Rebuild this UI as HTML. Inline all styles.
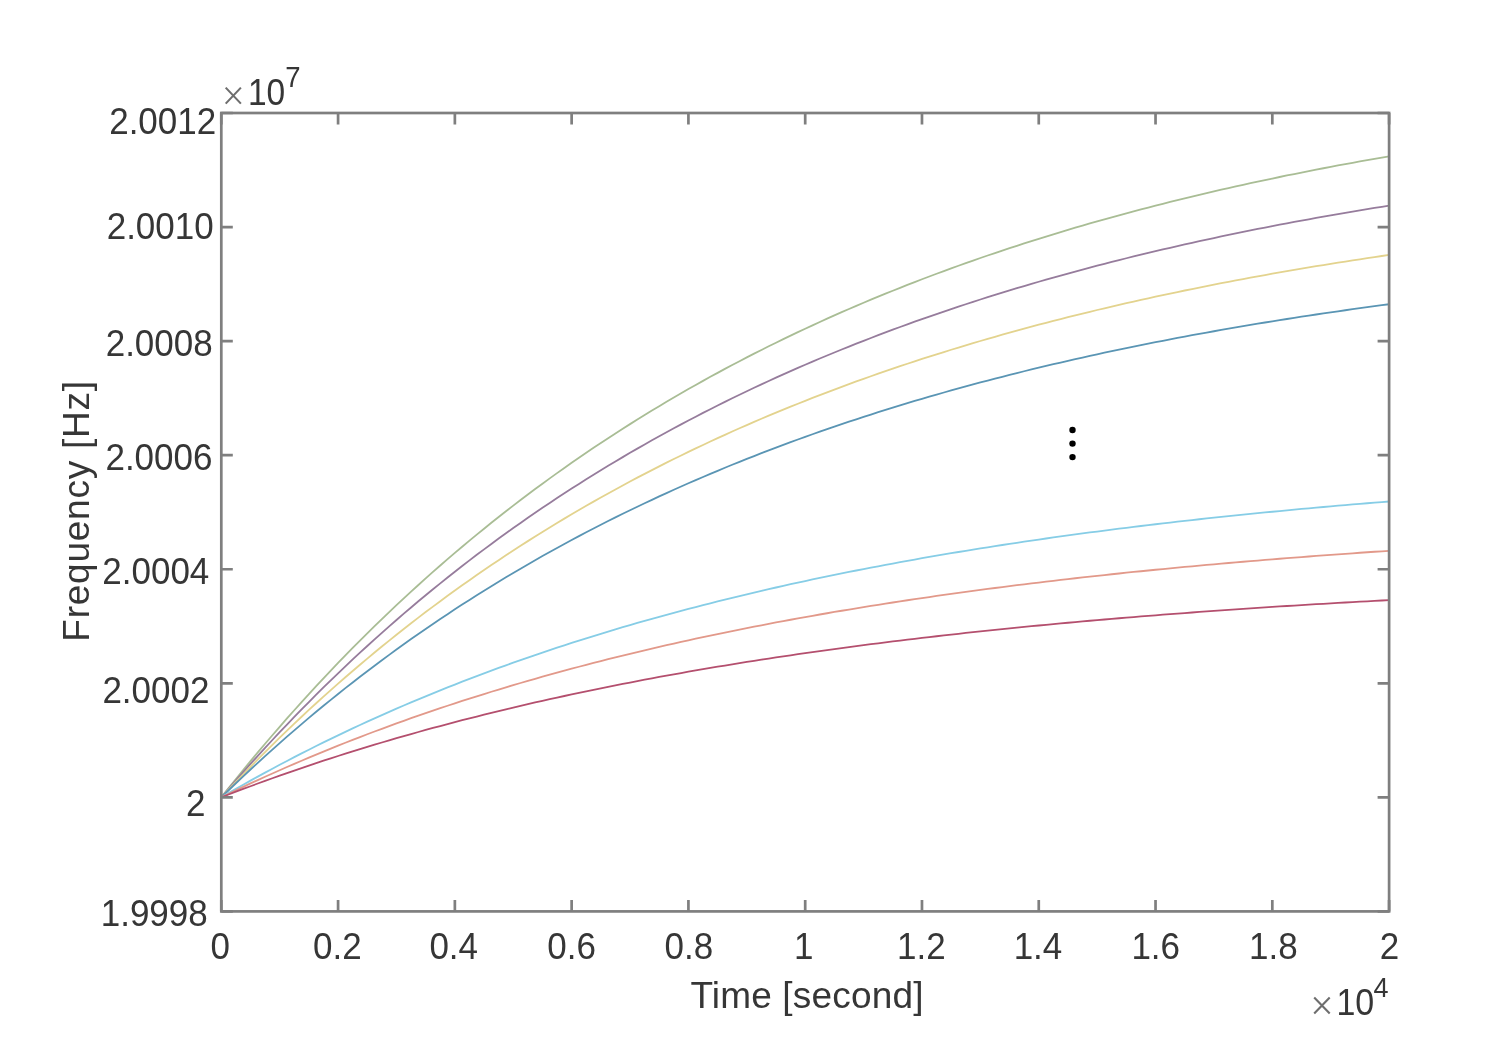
<!DOCTYPE html>
<html><head><meta charset="utf-8"><style>
html,body{margin:0;padding:0;background:#fff;}
body{width:1496px;height:1040px;overflow:hidden;}
svg{display:block;filter:blur(0.60px);}
text{font-family:"Liberation Sans",sans-serif;fill:#363636;}
</style></head><body>
<svg width="1496" height="1040" viewBox="0 0 1496 1040">
<rect width="1496" height="1040" fill="#fff"/>

<polyline fill="none" stroke="#a9bd95" stroke-width="1.8" stroke-linejoin="round" points="221.30,797.34 228.60,788.13 235.90,779.04 243.20,770.06 250.50,761.19 257.79,752.43 265.09,743.77 272.39,735.23 279.69,726.79 286.99,718.46 294.29,710.23 301.59,702.10 308.88,694.08 316.18,686.15 323.48,678.32 330.78,670.59 338.08,662.96 345.38,655.41 352.68,647.97 359.98,640.61 367.27,633.35 374.57,626.18 381.87,619.10 389.17,612.10 396.47,605.19 403.77,598.37 411.07,591.63 418.37,584.98 425.66,578.41 432.96,571.92 440.26,565.51 447.56,559.18 454.86,552.93 462.16,546.75 469.46,540.66 476.76,534.64 484.06,528.69 491.35,522.82 498.65,517.02 505.95,511.29 513.25,505.64 520.55,500.05 527.85,494.53 535.15,489.09 542.45,483.71 549.74,478.39 557.04,473.14 564.34,467.96 571.64,462.84 578.94,457.79 586.24,452.80 593.54,447.87 600.84,443.00 608.13,438.19 615.43,433.45 622.73,428.76 630.03,424.13 637.33,419.55 644.63,415.04 651.93,410.58 659.22,406.17 666.52,401.82 673.82,397.52 681.12,393.28 688.42,389.09 695.72,384.95 703.02,380.87 710.32,376.83 717.62,372.84 724.91,368.91 732.21,365.02 739.51,361.18 746.81,357.39 754.11,353.65 761.41,349.95 768.71,346.30 776.00,342.69 783.30,339.13 790.60,335.61 797.90,332.14 805.20,328.71 812.50,325.32 819.80,321.97 827.10,318.67 834.39,315.41 841.69,312.18 848.99,309.00 856.29,305.86 863.59,302.75 870.89,299.69 878.19,296.66 885.49,293.67 892.78,290.72 900.08,287.80 907.38,284.92 914.68,282.08 921.98,279.27 929.28,276.49 936.58,273.75 943.88,271.05 951.17,268.38 958.47,265.74 965.77,263.13 973.07,260.56 980.37,258.02 987.67,255.51 994.97,253.03 1002.27,250.58 1009.57,248.16 1016.86,245.78 1024.16,243.42 1031.46,241.09 1038.76,238.79 1046.06,236.52 1053.36,234.28 1060.66,232.06 1067.95,229.88 1075.25,227.71 1082.55,225.58 1089.85,223.47 1097.15,221.39 1104.45,219.34 1111.75,217.31 1119.05,215.31 1126.35,213.33 1133.64,211.37 1140.94,209.44 1148.24,207.53 1155.54,205.65 1162.84,203.79 1170.14,201.96 1177.44,200.14 1184.73,198.35 1192.03,196.58 1199.33,194.84 1206.63,193.11 1213.93,191.41 1221.23,189.73 1228.53,188.06 1235.83,186.42 1243.12,184.80 1250.42,183.20 1257.72,181.62 1265.02,180.06 1272.32,178.52 1279.62,177.00 1286.92,175.49 1294.22,174.01 1301.51,172.54 1308.81,171.09 1316.11,169.66 1323.41,168.25 1330.71,166.86 1338.01,165.48 1345.31,164.12 1352.61,162.78 1359.90,161.45 1367.20,160.14 1374.50,158.85 1381.80,157.57 1389.10,156.31"/>
<polyline fill="none" stroke="#967c9c" stroke-width="1.8" stroke-linejoin="round" points="221.30,797.34 228.60,788.84 235.90,780.45 243.20,772.16 250.50,763.97 257.79,755.88 265.09,747.89 272.39,740.01 279.69,732.22 286.99,724.53 294.29,716.93 301.59,709.43 308.88,702.02 316.18,694.70 323.48,687.48 330.78,680.34 338.08,673.29 345.38,666.33 352.68,659.46 359.98,652.67 367.27,645.97 374.57,639.35 381.87,632.81 389.17,626.35 396.47,619.97 403.77,613.68 411.07,607.46 418.37,601.31 425.66,595.25 432.96,589.26 440.26,583.34 447.56,577.50 454.86,571.73 462.16,566.03 469.46,560.40 476.76,554.84 484.06,549.36 491.35,543.94 498.65,538.58 505.95,533.30 513.25,528.07 520.55,522.92 527.85,517.83 535.15,512.80 542.45,507.83 549.74,502.93 557.04,498.08 564.34,493.30 571.64,488.58 578.94,483.91 586.24,479.30 593.54,474.75 600.84,470.26 608.13,465.82 615.43,461.44 622.73,457.11 630.03,452.83 637.33,448.61 644.63,444.44 651.93,440.33 659.22,436.26 666.52,432.25 673.82,428.28 681.12,424.36 688.42,420.50 695.72,416.68 703.02,412.90 710.32,409.18 717.62,405.50 724.91,401.86 732.21,398.28 739.51,394.73 746.81,391.23 754.11,387.78 761.41,384.36 768.71,380.99 776.00,377.66 783.30,374.38 790.60,371.13 797.90,367.92 805.20,364.76 812.50,361.63 819.80,358.54 827.10,355.49 834.39,352.48 841.69,349.50 848.99,346.56 856.29,343.66 863.59,340.80 870.89,337.97 878.19,335.17 885.49,332.41 892.78,329.69 900.08,327.00 907.38,324.34 914.68,321.71 921.98,319.12 929.28,316.56 936.58,314.03 943.88,311.53 951.17,309.07 958.47,306.63 965.77,304.23 973.07,301.85 980.37,299.51 987.67,297.19 994.97,294.90 1002.27,292.64 1009.57,290.41 1016.86,288.21 1024.16,286.03 1031.46,283.88 1038.76,281.76 1046.06,279.66 1053.36,277.59 1060.66,275.55 1067.95,273.53 1075.25,271.53 1082.55,269.56 1089.85,267.62 1097.15,265.70 1104.45,263.80 1111.75,261.93 1119.05,260.08 1126.35,258.25 1133.64,256.45 1140.94,254.66 1148.24,252.90 1155.54,251.17 1162.84,249.45 1170.14,247.76 1177.44,246.08 1184.73,244.43 1192.03,242.80 1199.33,241.18 1206.63,239.59 1213.93,238.02 1221.23,236.47 1228.53,234.93 1235.83,233.42 1243.12,231.92 1250.42,230.44 1257.72,228.98 1265.02,227.54 1272.32,226.12 1279.62,224.72 1286.92,223.33 1294.22,221.96 1301.51,220.60 1308.81,219.27 1316.11,217.95 1323.41,216.64 1330.71,215.36 1338.01,214.08 1345.31,212.83 1352.61,211.59 1359.90,210.36 1367.20,209.15 1374.50,207.96 1381.80,206.78 1389.10,205.62"/>
<polyline fill="none" stroke="#e3d38e" stroke-width="1.8" stroke-linejoin="round" points="221.30,797.34 228.60,789.55 235.90,781.85 243.20,774.25 250.50,766.75 257.79,759.34 265.09,752.02 272.39,744.79 279.69,737.65 286.99,730.59 294.29,723.63 301.59,716.75 308.88,709.96 316.18,703.26 323.48,696.63 330.78,690.09 338.08,683.63 345.38,677.25 352.68,670.95 359.98,664.73 367.27,658.58 374.57,652.51 381.87,646.52 389.17,640.60 396.47,634.75 403.77,628.98 411.07,623.28 418.37,617.65 425.66,612.09 432.96,606.60 440.26,601.17 447.56,595.82 454.86,590.53 462.16,585.31 469.46,580.15 476.76,575.05 484.06,570.02 491.35,565.05 498.65,560.15 505.95,555.30 513.25,550.51 520.55,545.79 527.85,541.12 535.15,536.51 542.45,531.96 549.74,527.46 557.04,523.02 564.34,518.64 571.64,514.31 578.94,510.03 586.24,505.81 593.54,501.63 600.84,497.52 608.13,493.45 615.43,489.43 622.73,485.46 630.03,481.54 637.33,477.67 644.63,473.85 651.93,470.08 659.22,466.35 666.52,462.67 673.82,459.03 681.12,455.44 688.42,451.90 695.72,448.40 703.02,444.94 710.32,441.52 717.62,438.15 724.91,434.82 732.21,431.53 739.51,428.28 746.81,425.08 754.11,421.91 761.41,418.78 768.71,415.69 776.00,412.64 783.30,409.62 790.60,406.65 797.90,403.71 805.20,400.80 812.50,397.94 819.80,395.11 827.10,392.31 834.39,389.55 841.69,386.82 848.99,384.13 856.29,381.47 863.59,378.84 870.89,376.25 878.19,373.69 885.49,371.16 892.78,368.66 900.08,366.19 907.38,363.76 914.68,361.35 921.98,358.97 929.28,356.62 936.58,354.31 943.88,352.02 951.17,349.76 958.47,347.52 965.77,345.32 973.07,343.14 980.37,340.99 987.67,338.87 994.97,336.77 1002.27,334.70 1009.57,332.65 1016.86,330.63 1024.16,328.64 1031.46,326.67 1038.76,324.72 1046.06,322.80 1053.36,320.90 1060.66,319.03 1067.95,317.18 1075.25,315.35 1082.55,313.54 1089.85,311.76 1097.15,310.00 1104.45,308.26 1111.75,306.55 1119.05,304.85 1126.35,303.17 1133.64,301.52 1140.94,299.89 1148.24,298.27 1155.54,296.68 1162.84,295.11 1170.14,293.55 1177.44,292.02 1184.73,290.50 1192.03,289.01 1199.33,287.53 1206.63,286.07 1213.93,284.63 1221.23,283.20 1228.53,281.80 1235.83,280.41 1243.12,279.04 1250.42,277.69 1257.72,276.35 1265.02,275.03 1272.32,273.72 1279.62,272.43 1286.92,271.16 1294.22,269.91 1301.51,268.67 1308.81,267.44 1316.11,266.23 1323.41,265.04 1330.71,263.86 1338.01,262.69 1345.31,261.54 1352.61,260.40 1359.90,259.28 1367.20,258.17 1374.50,257.08 1381.80,255.99 1389.10,254.93"/>
<polyline fill="none" stroke="#5a95b4" stroke-width="1.8" stroke-linejoin="round" points="221.30,797.34 228.60,790.26 235.90,783.26 243.20,776.35 250.50,769.53 257.79,762.79 265.09,756.14 272.39,749.56 279.69,743.07 286.99,736.66 294.29,730.33 301.59,724.08 308.88,717.91 316.18,711.81 323.48,705.79 330.78,699.84 338.08,693.97 345.38,688.17 352.68,682.44 359.98,676.78 367.27,671.20 374.57,665.68 381.87,660.23 389.17,654.85 396.47,649.54 403.77,644.29 411.07,639.10 418.37,633.99 425.66,628.93 432.96,623.94 440.26,619.01 447.56,614.14 454.86,609.33 462.16,604.58 469.46,599.89 476.76,595.26 484.06,590.69 491.35,586.17 498.65,581.71 505.95,577.30 513.25,572.95 520.55,568.66 527.85,564.41 535.15,560.22 542.45,556.08 549.74,552.00 557.04,547.96 564.34,543.97 571.64,540.04 578.94,536.15 586.24,532.31 593.54,528.52 600.84,524.77 608.13,521.07 615.43,517.42 622.73,513.81 630.03,510.25 637.33,506.73 644.63,503.26 651.93,499.83 659.22,496.44 666.52,493.09 673.82,489.79 681.12,486.53 688.42,483.30 695.72,480.12 703.02,476.98 710.32,473.87 717.62,470.81 724.91,467.78 732.21,464.79 739.51,461.83 746.81,458.92 754.11,456.04 761.41,453.19 768.71,450.38 776.00,447.61 783.30,444.87 790.60,442.16 797.90,439.49 805.20,436.85 812.50,434.25 819.80,431.67 827.10,429.13 834.39,426.62 841.69,424.14 848.99,421.69 856.29,419.28 863.59,416.89 870.89,414.53 878.19,412.20 885.49,409.90 892.78,407.63 900.08,405.39 907.38,403.17 914.68,400.98 921.98,398.82 929.28,396.69 936.58,394.58 943.88,392.50 951.17,390.45 958.47,388.42 965.77,386.41 973.07,384.43 980.37,382.48 987.67,380.55 994.97,378.64 1002.27,376.76 1009.57,374.90 1016.86,373.06 1024.16,371.25 1031.46,369.46 1038.76,367.69 1046.06,365.94 1053.36,364.22 1060.66,362.51 1067.95,360.83 1075.25,359.17 1082.55,357.53 1089.85,355.91 1097.15,354.31 1104.45,352.72 1111.75,351.16 1119.05,349.62 1126.35,348.10 1133.64,346.60 1140.94,345.11 1148.24,343.64 1155.54,342.20 1162.84,340.77 1170.14,339.35 1177.44,337.96 1184.73,336.58 1192.03,335.22 1199.33,333.88 1206.63,332.55 1213.93,331.24 1221.23,329.94 1228.53,328.67 1235.83,327.40 1243.12,326.16 1250.42,324.93 1257.72,323.71 1265.02,322.51 1272.32,321.32 1279.62,320.15 1286.92,319.00 1294.22,317.86 1301.51,316.73 1308.81,315.61 1316.11,314.51 1323.41,313.43 1330.71,312.35 1338.01,311.29 1345.31,310.25 1352.61,309.21 1359.90,308.19 1367.20,307.19 1374.50,306.19 1381.80,305.21 1389.10,304.24"/>
<polyline fill="none" stroke="#86cde6" stroke-width="1.8" stroke-linejoin="round" points="221.30,797.34 228.60,793.09 235.90,788.89 243.20,784.75 250.50,780.65 257.79,776.61 265.09,772.62 272.39,768.68 279.69,764.78 286.99,760.93 294.29,757.14 301.59,753.39 308.88,749.68 316.18,746.02 323.48,742.41 330.78,738.84 338.08,735.32 345.38,731.84 352.68,728.40 359.98,725.01 367.27,721.65 374.57,718.34 381.87,715.08 389.17,711.85 396.47,708.66 403.77,705.51 411.07,702.40 418.37,699.33 425.66,696.30 432.96,693.30 440.26,690.34 447.56,687.42 454.86,684.54 462.16,681.69 469.46,678.87 476.76,676.09 484.06,673.35 491.35,670.64 498.65,667.96 505.95,665.32 513.25,662.71 520.55,660.13 527.85,657.58 535.15,655.07 542.45,652.59 549.74,650.13 557.04,647.71 564.34,645.32 571.64,642.96 578.94,640.63 586.24,638.32 593.54,636.05 600.84,633.80 608.13,631.58 615.43,629.39 622.73,627.23 630.03,625.09 637.33,622.98 644.63,620.89 651.93,618.83 659.22,616.80 666.52,614.79 673.82,612.81 681.12,610.85 688.42,608.92 695.72,607.01 703.02,605.12 710.32,603.26 717.62,601.42 724.91,599.60 732.21,597.81 739.51,596.04 746.81,594.29 754.11,592.56 761.41,590.85 768.71,589.17 776.00,587.50 783.30,585.86 790.60,584.24 797.90,582.63 805.20,581.05 812.50,579.49 819.80,577.94 827.10,576.42 834.39,574.91 841.69,573.42 848.99,571.95 856.29,570.50 863.59,569.07 870.89,567.66 878.19,566.26 885.49,564.88 892.78,563.52 900.08,562.17 907.38,560.84 914.68,559.53 921.98,558.23 929.28,556.95 936.58,555.69 943.88,554.44 951.17,553.21 958.47,551.99 965.77,550.78 973.07,549.60 980.37,548.42 987.67,547.27 994.97,546.12 1002.27,544.99 1009.57,543.88 1016.86,542.77 1024.16,541.69 1031.46,540.61 1038.76,539.55 1046.06,538.50 1053.36,537.47 1060.66,536.44 1067.95,535.43 1075.25,534.44 1082.55,533.45 1089.85,532.48 1097.15,531.52 1104.45,530.57 1111.75,529.64 1119.05,528.71 1126.35,527.80 1133.64,526.89 1140.94,526.00 1148.24,525.12 1155.54,524.25 1162.84,523.40 1170.14,522.55 1177.44,521.71 1184.73,520.89 1192.03,520.07 1199.33,519.26 1206.63,518.47 1213.93,517.68 1221.23,516.90 1228.53,516.14 1235.83,515.38 1243.12,514.63 1250.42,513.89 1257.72,513.16 1265.02,512.44 1272.32,511.73 1279.62,511.03 1286.92,510.34 1294.22,509.65 1301.51,508.97 1308.81,508.31 1316.11,507.65 1323.41,506.99 1330.71,506.35 1338.01,505.71 1345.31,505.09 1352.61,504.47 1359.90,503.85 1367.20,503.25 1374.50,502.65 1381.80,502.06 1389.10,501.48"/>
<polyline fill="none" stroke="#e2998a" stroke-width="1.8" stroke-linejoin="round" points="221.30,797.34 228.60,793.80 235.90,790.30 243.20,786.85 250.50,783.44 257.79,780.07 265.09,776.74 272.39,773.45 279.69,770.21 286.99,767.00 294.29,763.84 301.59,760.71 308.88,757.62 316.18,754.58 323.48,751.57 330.78,748.59 338.08,745.66 345.38,742.76 352.68,739.89 359.98,737.06 367.27,734.27 374.57,731.51 381.87,728.79 389.17,726.10 396.47,723.44 403.77,720.81 411.07,718.22 418.37,715.66 425.66,713.14 432.96,710.64 440.26,708.18 447.56,705.74 454.86,703.34 462.16,700.96 469.46,698.62 476.76,696.30 484.06,694.02 491.35,691.76 498.65,689.53 505.95,687.32 513.25,685.15 520.55,683.00 527.85,680.88 535.15,678.78 542.45,676.71 549.74,674.67 557.04,672.65 564.34,670.66 571.64,668.69 578.94,666.75 586.24,664.83 593.54,662.93 600.84,661.06 608.13,659.21 615.43,657.38 622.73,655.58 630.03,653.80 637.33,652.04 644.63,650.30 651.93,648.59 659.22,646.89 666.52,645.22 673.82,643.57 681.12,641.93 688.42,640.32 695.72,638.73 703.02,637.16 710.32,635.61 717.62,634.07 724.91,632.56 732.21,631.07 739.51,629.59 746.81,628.13 754.11,626.69 761.41,625.27 768.71,623.86 776.00,622.48 783.30,621.11 790.60,619.75 797.90,618.42 805.20,617.10 812.50,615.80 819.80,614.51 827.10,613.24 834.39,611.98 841.69,610.74 848.99,609.52 856.29,608.31 863.59,607.12 870.89,605.94 878.19,604.77 885.49,603.62 892.78,602.49 900.08,601.37 907.38,600.26 914.68,599.16 921.98,598.08 929.28,597.02 936.58,595.96 943.88,594.92 951.17,593.89 958.47,592.88 965.77,591.88 973.07,590.89 980.37,589.91 987.67,588.95 994.97,587.99 1002.27,587.05 1009.57,586.12 1016.86,585.20 1024.16,584.30 1031.46,583.40 1038.76,582.52 1046.06,581.64 1053.36,580.78 1060.66,579.93 1067.95,579.09 1075.25,578.26 1082.55,577.43 1089.85,576.62 1097.15,575.82 1104.45,575.03 1111.75,574.25 1119.05,573.48 1126.35,572.72 1133.64,571.97 1140.94,571.23 1148.24,570.49 1155.54,569.77 1162.84,569.05 1170.14,568.35 1177.44,567.65 1184.73,566.96 1192.03,566.28 1199.33,565.61 1206.63,564.95 1213.93,564.29 1221.23,563.64 1228.53,563.00 1235.83,562.37 1243.12,561.75 1250.42,561.13 1257.72,560.53 1265.02,559.93 1272.32,559.33 1279.62,558.75 1286.92,558.17 1294.22,557.60 1301.51,557.04 1308.81,556.48 1316.11,555.93 1323.41,555.38 1330.71,554.85 1338.01,554.32 1345.31,553.80 1352.61,553.28 1359.90,552.77 1367.20,552.26 1374.50,551.77 1381.80,551.28 1389.10,550.79"/>
<polyline fill="none" stroke="#b44f6e" stroke-width="1.8" stroke-linejoin="round" points="221.30,797.34 228.60,794.51 235.90,791.71 243.20,788.95 250.50,786.22 257.79,783.52 265.09,780.86 272.39,778.23 279.69,775.63 286.99,773.07 294.29,770.54 301.59,768.04 308.88,765.57 316.18,763.13 323.48,760.72 330.78,758.34 338.08,755.99 345.38,753.67 352.68,751.38 359.98,749.12 367.27,746.88 374.57,744.68 381.87,742.50 389.17,740.35 396.47,738.22 403.77,736.12 411.07,734.05 418.37,732.00 425.66,729.98 432.96,727.98 440.26,726.01 447.56,724.06 454.86,722.14 462.16,720.24 469.46,718.36 476.76,716.51 484.06,714.68 491.35,712.87 498.65,711.09 505.95,709.33 513.25,707.59 520.55,705.87 527.85,704.17 535.15,702.49 542.45,700.84 549.74,699.20 557.04,697.59 564.34,696.00 571.64,694.42 578.94,692.87 586.24,691.33 593.54,689.81 600.84,688.31 608.13,686.84 615.43,685.37 622.73,683.93 630.03,682.51 637.33,681.10 644.63,679.71 651.93,678.34 659.22,676.98 666.52,675.64 673.82,674.32 681.12,673.02 688.42,671.73 695.72,670.45 703.02,669.20 710.32,667.95 717.62,666.73 724.91,665.52 732.21,664.32 739.51,663.14 746.81,661.97 754.11,660.82 761.41,659.68 768.71,658.56 776.00,657.45 783.30,656.35 790.60,655.27 797.90,654.20 805.20,653.15 812.50,652.10 819.80,651.08 827.10,650.06 834.39,649.05 841.69,648.06 848.99,647.08 856.29,646.12 863.59,645.16 870.89,644.22 878.19,643.29 885.49,642.37 892.78,641.46 900.08,640.56 907.38,639.67 914.68,638.80 921.98,637.94 929.28,637.08 936.58,636.24 943.88,635.41 951.17,634.58 958.47,633.77 965.77,632.97 973.07,632.18 980.37,631.40 987.67,630.62 994.97,629.86 1002.27,629.11 1009.57,628.36 1016.86,627.63 1024.16,626.90 1031.46,626.19 1038.76,625.48 1046.06,624.78 1053.36,624.09 1060.66,623.41 1067.95,622.74 1075.25,622.07 1082.55,621.42 1089.85,620.77 1097.15,620.13 1104.45,619.50 1111.75,618.87 1119.05,618.25 1126.35,617.65 1133.64,617.04 1140.94,616.45 1148.24,615.86 1155.54,615.28 1162.84,614.71 1170.14,614.15 1177.44,613.59 1184.73,613.04 1192.03,612.49 1199.33,611.96 1206.63,611.43 1213.93,610.90 1221.23,610.38 1228.53,609.87 1235.83,609.37 1243.12,608.87 1250.42,608.38 1257.72,607.89 1265.02,607.41 1272.32,606.94 1279.62,606.47 1286.92,606.00 1294.22,605.55 1301.51,605.10 1308.81,604.65 1316.11,604.21 1323.41,603.78 1330.71,603.35 1338.01,602.92 1345.31,602.50 1352.61,602.09 1359.90,601.68 1367.20,601.28 1374.50,600.88 1381.80,600.49 1389.10,600.10"/>
<circle cx="1072.5" cy="430.0" r="3.2" fill="#000"/>
<circle cx="1072.5" cy="443.6" r="3.2" fill="#000"/>
<circle cx="1072.5" cy="457.1" r="3.2" fill="#000"/>
<rect x="221.3" y="113.0" width="1167.80" height="798.40" fill="none" stroke="#7f7f7f" stroke-width="2.7"/>
<path d="M221.30,911.40V899.90M221.30,113.00V124.50M338.08,911.40V899.90M338.08,113.00V124.50M454.86,911.40V899.90M454.86,113.00V124.50M571.64,911.40V899.90M571.64,113.00V124.50M688.42,911.40V899.90M688.42,113.00V124.50M805.20,911.40V899.90M805.20,113.00V124.50M921.98,911.40V899.90M921.98,113.00V124.50M1038.76,911.40V899.90M1038.76,113.00V124.50M1155.54,911.40V899.90M1155.54,113.00V124.50M1272.32,911.40V899.90M1272.32,113.00V124.50M1389.10,911.40V899.90M1389.10,113.00V124.50M221.30,911.40H232.80M1389.10,911.40H1377.60M221.30,797.34H232.80M1389.10,797.34H1377.60M221.30,683.29H232.80M1389.10,683.29H1377.60M221.30,569.23H232.80M1389.10,569.23H1377.60M221.30,455.17H232.80M1389.10,455.17H1377.60M221.30,341.11H232.80M1389.10,341.11H1377.60M221.30,227.06H232.80M1389.10,227.06H1377.60M221.30,113.00H232.80M1389.10,113.00H1377.60" stroke="#7f7f7f" stroke-width="2.7" fill="none"/>
<text x="109.20" y="133.82" font-size="35" transform="translate(162.75,121.75) scale(1.0,1.05) translate(-162.75,-121.75)">2.0012</text>
<text x="106.68" y="238.72" font-size="35" transform="translate(160.40,226.65) scale(1.0,1.05) translate(-160.40,-226.65)">2.0010</text>
<text x="105.70" y="355.47" font-size="35" transform="translate(159.25,343.40) scale(1.0,1.05) translate(-159.25,-343.40)">2.0008</text>
<text x="105.45" y="469.68" font-size="35" transform="translate(159.00,457.60) scale(1.0,1.05) translate(-159.00,-457.60)">2.0006</text>
<text x="102.30" y="583.73" font-size="35" transform="translate(156.20,571.65) scale(1.0,1.05) translate(-156.20,-571.65)">2.0004</text>
<text x="102.40" y="702.23" font-size="35" transform="translate(155.95,690.15) scale(1.0,1.05) translate(-155.95,-690.15)">2.0002</text>
<text x="186.00" y="815.15" font-size="35" transform="translate(195.80,802.90) scale(1.0,1.05) translate(-195.80,-802.90)">2</text>
<text x="100.73" y="925.08" font-size="35" transform="translate(154.80,913.00) scale(1.0,1.05) translate(-154.80,-913.00)">1.9998</text>
<text x="210.55" y="958.48" font-size="35" transform="translate(220.35,946.40) scale(1.0,1.04) translate(-220.35,-946.40)">0</text>
<text x="313.05" y="958.38" font-size="35" transform="translate(337.20,946.30) scale(1.0,1.04) translate(-337.20,-946.30)">0.2</text>
<text x="429.40" y="958.38" font-size="35" transform="translate(453.90,946.30) scale(1.0,1.04) translate(-453.90,-946.30)">0.4</text>
<text x="547.27" y="958.38" font-size="35" transform="translate(571.60,946.30) scale(1.0,1.04) translate(-571.60,-946.30)">0.6</text>
<text x="664.47" y="958.38" font-size="35" transform="translate(688.80,946.30) scale(1.0,1.04) translate(-688.80,-946.30)">0.8</text>
<text x="794.02" y="958.12" font-size="35" transform="translate(804.35,946.05) scale(1.0,1.04) translate(-804.35,-946.05)">1</text>
<text x="897.10" y="958.30" font-size="35" transform="translate(921.95,946.05) scale(1.0,1.04) translate(-921.95,-946.05)">1.2</text>
<text x="1013.65" y="958.12" font-size="35" transform="translate(1038.85,946.05) scale(1.0,1.04) translate(-1038.85,-946.05)">1.4</text>
<text x="1131.42" y="958.12" font-size="35" transform="translate(1156.45,946.05) scale(1.0,1.04) translate(-1156.45,-946.05)">1.6</text>
<text x="1248.97" y="958.12" font-size="35" transform="translate(1274.00,946.05) scale(1.0,1.04) translate(-1274.00,-946.05)">1.8</text>
<text x="1379.70" y="958.30" font-size="35" transform="translate(1389.50,946.05) scale(1.0,1.04) translate(-1389.50,-946.05)">2</text>
<text x="690.39" y="1007.77" font-size="37" letter-spacing="0.17">Time [second]</text>
<text transform="translate(89.47,641.64) rotate(-90)" font-size="37" letter-spacing="0.75">Frequency [Hz]</text>
<path d="M225.7,87.6L240.9,103.6M225.7,103.6L240.9,87.6" stroke="#6e6e6e" stroke-width="2.1" fill="none"/>
<text x="247.94" y="103.66" font-size="33.5" transform="translate(267.20,92.10) scale(1.0,1.09) translate(-267.20,-92.10)">10</text>
<text x="285.25" y="87.03" font-size="27.5" transform="translate(292.95,77.40) scale(1.0,1.05) translate(-292.95,-77.40)">7</text>
<path d="M1314.2,997.5L1329.7,1013.4M1314.2,1013.4L1329.7,997.5" stroke="#6e6e6e" stroke-width="2.1" fill="none"/>
<text x="1336.40" y="1013.93" font-size="34" transform="translate(1355.95,1002.20) scale(1.0,1.1) translate(-1355.95,-1002.20)">10</text>
<text x="1373.52" y="997.25" font-size="27">4</text>
</svg></body></html>
